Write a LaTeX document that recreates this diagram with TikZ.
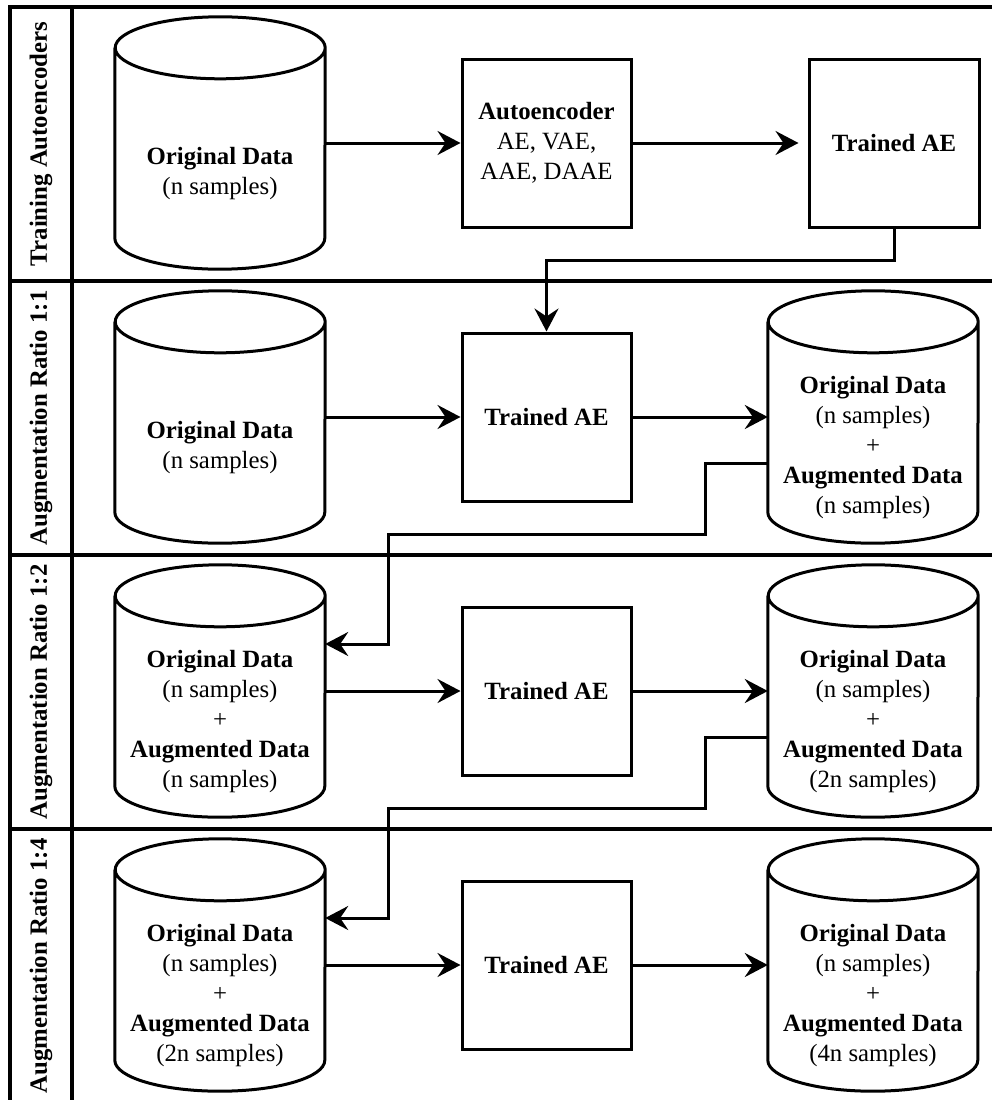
\documentclass[tikz,border=0pt]{standalone}
\usepackage{fontspec}
\setmainfont{Liberation Serif}
\usetikzlibrary{arrows.meta}
\newcommand\lbl{\fontsize{24.8pt}{30pt}\selectfont}
% cylinder outline drawn inside a named area node
\newcommand\drawcylinder[1]{%
  \draw[line] ([yshift=-31pt]#1.north west) -- ([yshift=31pt]#1.south west)
    arc[start angle=180, end angle=360, x radius=105pt, y radius=31pt]
    -- ([yshift=-31pt]#1.north east)
    arc[start angle=0, end angle=180, x radius=105pt, y radius=31pt]
    arc[start angle=180, end angle=360, x radius=105pt, y radius=31pt];}
\begin{document}
\begin{tikzpicture}[x=1pt,y=-1pt,
  frame/.style={line width=3.2pt},
  line/.style={line width=3pt},
  conn/.style={line width=3pt, -{Stealth[length=23pt,width=24pt,inset=8pt]}},
  procbox/.style={draw, line width=3pt, minimum width=169pt, minimum height=168pt,
                  inner sep=0pt, align=center, font=\lbl},
  cylarea/.style={minimum width=210pt, minimum height=252pt, inner sep=0pt},
  cyltext/.style={align=center, font=\lbl, inner sep=0pt},
  lanelabel/.style={rotate=90, font=\lbl\bfseries, inner sep=0pt}]
\useasboundingbox (0,0) rectangle (992,1100);

% swimlane frame
\draw[frame] (1000,7) -- (10,7) -- (10,1110);
\draw[frame] (72,7) -- (72,1110);
\foreach \y in {281,555,829} \draw[frame] (10,\y) -- (1000,\y);

% lane titles
\node[lanelabel] (l1) at (41,144) {Training Autoencoders};
\node[lanelabel] (l2) at (41,418) {Augmentation Ratio 1:1};
\node[lanelabel] (l3) at (41,692) {Augmentation Ratio 1:2};
\node[lanelabel] (l4) at (41,966) {Augmentation Ratio 1:4};

% lane 1: training
\node[cylarea] (c1) at (220,143) {};
\drawcylinder{c1}
\node[cyltext] (c1t) at ([yshift=-31pt]c1.center) {\textbf{Original Data}\\(n samples)};
\node[procbox] (ae) at (546.5,143) {\textbf{Autoencoder}\\AE, VAE,\\AAE, DAAE};
\node[procbox, minimum width=170pt] (t1) at (894,143) {\textbf{Trained AE}};

% lane 2: ratio 1:1
\node[cylarea] (c2a) at (220,417) {};
\drawcylinder{c2a}
\node[cyltext] (c2at) at ([yshift=-31pt]c2a.center) {\textbf{Original Data}\\(n samples)};
\node[procbox] (t2) at (546.5,417) {\textbf{Trained AE}};
\node[cylarea] (c2b) at (873,417) {};
\drawcylinder{c2b}
\node[cyltext] (c2bt) at ([yshift=-31pt]c2b.center)
  {\textbf{Original Data}\\(n samples)\\+\\\textbf{Augmented Data}\\(n samples)};

% lane 3: ratio 1:2
\node[cylarea] (c3a) at (220,691) {};
\drawcylinder{c3a}
\node[cyltext] (c3at) at ([yshift=-31pt]c3a.center)
  {\textbf{Original Data}\\(n samples)\\+\\\textbf{Augmented Data}\\(n samples)};
\node[procbox] (t3) at (546.5,691) {\textbf{Trained AE}};
\node[cylarea] (c3b) at (873,691) {};
\drawcylinder{c3b}
\node[cyltext] (c3bt) at ([yshift=-31pt]c3b.center)
  {\textbf{Original Data}\\(n samples)\\+\\\textbf{Augmented Data}\\(2n samples)};

% lane 4: ratio 1:4
\node[cylarea] (c4a) at (220,965) {};
\drawcylinder{c4a}
\node[cyltext] (c4at) at ([yshift=-31pt]c4a.center)
  {\textbf{Original Data}\\(n samples)\\+\\\textbf{Augmented Data}\\(2n samples)};
\node[procbox] (t4) at (546.5,965) {\textbf{Trained AE}};
\node[cylarea] (c4b) at (873,965) {};
\drawcylinder{c4b}
\node[cyltext] (c4bt) at ([yshift=-31pt]c4b.center)
  {\textbf{Original Data}\\(n samples)\\+\\\textbf{Augmented Data}\\(4n samples)};

% bend points of the routed connectors
\coordinate (k1) at (546.5,260);
\coordinate (k2a) at (705,534);
\coordinate (k2b) at (388,534);
\coordinate (k3a) at (705,808);
\coordinate (k3b) at (388,808);

% connectors
\draw[conn] (c1.east) -- (ae.west);
\draw[conn, shorten >=9pt] (ae.east) -- (t1.west);
\draw[conn] (t1.south) |- (k1) -- (t2.north);

\draw[conn] (c2a.east) -- (t2.west);
\draw[conn] (t2.east) -- (c2b.west);
\draw[conn] ([yshift=-46pt]c2b.west) -| (k2a) -- (k2b) |- ([yshift=47pt]c3a.east);

\draw[conn] (c3a.east) -- (t3.west);
\draw[conn] (t3.east) -- (c3b.west);
\draw[conn] ([yshift=-46pt]c3b.west) -| (k3a) -- (k3b) |- ([yshift=47pt]c4a.east);

\draw[conn] (c4a.east) -- (t4.west);
\draw[conn] (t4.east) -- (c4b.west);
\end{tikzpicture}
\end{document}
